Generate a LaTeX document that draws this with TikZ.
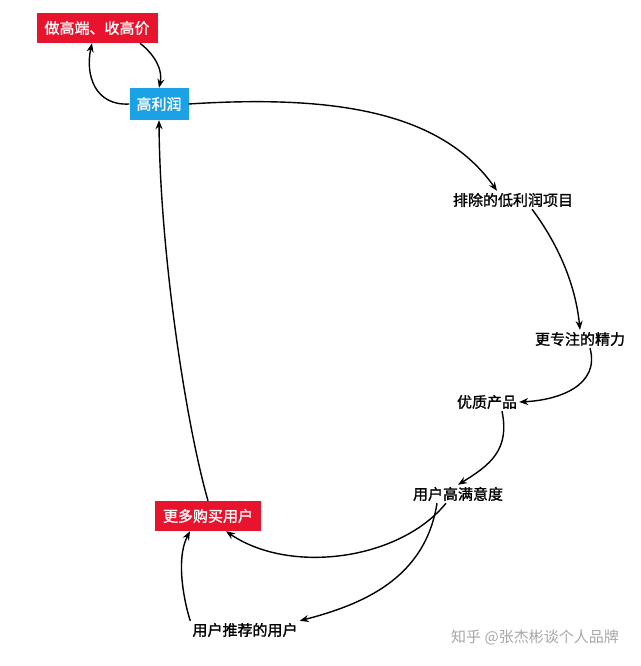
\documentclass[tikz,border=0pt]{standalone}
\usepackage{fontspec}
\setmainfont{Noto Sans CJK SC}[AutoFakeBold=1.2]
\usetikzlibrary{arrows.meta}
\definecolor{hired}{HTML}{E8142E}
\definecolor{hiblue}{HTML}{1BA1E6}
\begin{document}
\begin{tikzpicture}[x=1pt,y=-1pt,
  lbl/.style={font=\fontsize{15}{17}\selectfont\bfseries, inner sep=2pt},
  redbox/.style={lbl, fill=hired, text=white, minimum height=30pt, inner xsep=8pt},
  bluebox/.style={lbl, fill=hiblue, text=white, minimum height=32pt, inner xsep=7pt},
  conn/.style={line width=1.4pt, -{Stealth[length=9pt,width=7pt]}}]
\useasboundingbox (0,0) rectangle (640,666);
\node[redbox] (a) at (97,28) {做高端、收高价};
\node[bluebox] (b) at (159,104) {高利润};
\node[lbl] (c) at (513,200) {排除的低利润项目};
\node[lbl] (d) at (580,339) {更专注的精力};
\node[lbl] (e) at (487,402) {优质产品};
\node[lbl] (f) at (458,494) {用户高满意度};
\node[redbox] (g) at (208,516) {更多购买用户};
\node[lbl] (h) at (245,630) {用户推荐的用户};
\node[lbl, font=\fontsize{15}{17}\selectfont, text=gray!70] (w) at (535,637) {知乎 @张杰彬谈个人品牌};
\draw[conn] (b.west) .. controls (95,106) and (85,75) .. (a.south -| 92,0);
\draw[conn] (a.south -| 140,0) .. controls (155,55) and (163,70) .. (b.north);
\draw[conn] (b.east) .. controls (330,95) and (440,110) .. (c.north -| 497,0);
\draw[conn] (c.south -| 532,0) .. controls (555,240) and (575,280) .. (d.north);
\draw[conn] (d.south -| 590,0) .. controls (600,385) and (560,400) .. (e.east);
\draw[conn] (e.south -| 502,0) .. controls (510,450) and (490,465) .. (f.north);
\draw[conn] (f.south -| 446,0) .. controls (400,560) and (290,575) .. (g.south -| 226,0);
\draw[conn] (f.south -| 437,0) .. controls (425,580) and (360,605) .. (h.north east);
\draw[conn] (h.north west) .. controls (185,605) and (175,560) .. (g.south -| 190,0);
\draw[conn] (g.north) .. controls (185,420) and (160,250) .. (b.south);
\end{tikzpicture}
\end{document}
